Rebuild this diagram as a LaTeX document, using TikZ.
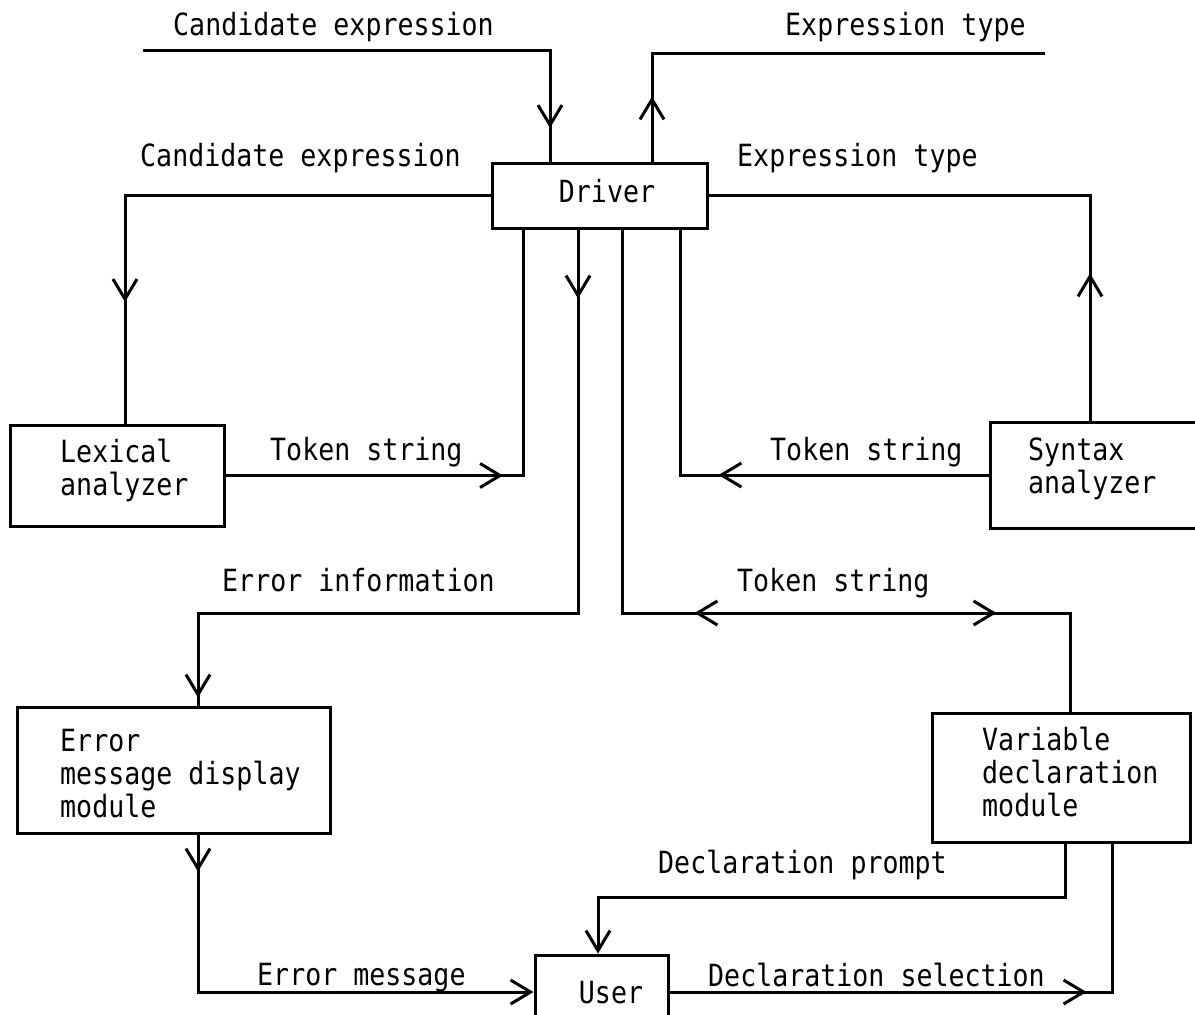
\documentclass[tikz,border=0pt]{standalone}
\usepackage{fontspec}
\setmonofont[FakeStretch=0.87]{DejaVu Sans Mono}
\usetikzlibrary{arrows.meta,decorations.markings}
\tikzset{
  vtip/.tip={Straight Barb[length=20pt,width=24pt]},
  box/.style={draw, line width=3pt, inner sep=0pt},
  txt/.style={font=\ttfamily\fontsize{30.6}{33}\selectfont, inner sep=0pt, align=left},
  lbl/.style={txt, anchor=base west},
  conn/.style={line width=3pt, line join=miter},
  fwd/.style={postaction={decorate, decoration={markings, mark=at position #1 with {\arrow{vtip}}}}},
  bwd/.style={postaction={decorate, decoration={markings, mark=at position #1 with {\arrowreversed{vtip}}}}},
}
\begin{document}
\begin{tikzpicture}[x=1pt, y=-1pt]
\useasboundingbox (0,0) rectangle (1195,1015);
\fill[white] (0,0) rectangle (1195,1015);

% boxes
\node[box, minimum width=215pt, minimum height=65pt] (drv) at (599.5,195.5) {};
\node[box, minimum width=214pt, minimum height=101pt] (lex) at (117.5,475.5) {};
\node[box, minimum width=220pt, minimum height=106pt] (syn) at (1100,475) {};
\node[box, minimum width=313pt, minimum height=126pt] (err) at (173.5,770) {};
\node[box, minimum width=258pt, minimum height=129pt] (var) at (1061,777.5) {};
\node[box, minimum width=133pt, minimum height=74pt] (usr) at (601.5,992) {};

% box texts
\node[txt] (drvt) at (607,191) {Driver};
\node[txt, anchor=west] (lext) at (60,470.5) {Lexical\\analyzer};
\node[txt, anchor=west] (synt) at (1028,469) {Syntax\\analyzer};
\node[txt, anchor=west] (errt) at (60,774) {Error\\message display\\module};
\node[txt, anchor=west] (vart) at (982,772) {Variable\\declaration\\module};
\node[txt] (usrt) at (611,993) {User};

% free ends and junctions
\coordinate (cin) at (143,50);
\coordinate (tout) at (1045,53);
\coordinate (j1) at (578,613);
\coordinate (j2) at (622,613);
\coordinate (j3) at (1065,897);

% connectors
\draw[conn, fwd=485pt] (cin) -| ([xshift=-49.5pt]drv.north);
\draw[conn, fwd=65pt] ([xshift=52.5pt]drv.north) |- (tout);
\draw[conn, fwd=472pt] (drv.west) -| ([xshift=7.5pt]lex.north);
\draw[conn, fwd=147pt] ([xshift=-10pt]syn.north) |- (drv.east);
\draw[conn, fwd=277pt] (lex.east) -| ([xshift=-76.5pt]drv.south);
\draw[conn, fwd=270pt] (syn.west) -| ([xshift=80.5pt]drv.south);
\draw[conn, fwd=69pt, fwd=848pt] ([xshift=-21.5pt]drv.south) -- (j1) -| ([xshift=24.5pt]err.north);
\draw[conn, bwd=456pt, fwd=758pt] ([xshift=22.5pt]drv.south) -- (j2) -| ([xshift=9pt]var.north);
\draw[conn, fwd=37pt, -{vtip}] ([xshift=24.5pt]err.south) |- (usr.west);
\draw[conn, -{vtip}] ([xshift=4pt]var.south) -- (j3) -| ([xshift=-3.5pt]usr.north);
\draw[conn, fwd=417pt] (usr.east) -| ([xshift=51pt]var.south);

% labels
\node[lbl] (l1) at (173,35) {Candidate expression};
\node[lbl] (l2) at (785,35) {Expression type};
\node[lbl] (l3) at (140,166) {Candidate expression};
\node[lbl] (l4) at (737,166) {Expression type};
\node[lbl] (l5) at (270,460) {Token string};
\node[lbl] (l6) at (770,460) {Token string};
\node[lbl] (l7) at (222,591) {Error information};
\node[lbl] (l8) at (737,591) {Token string};
\node[lbl] (l9) at (658,873) {Declaration prompt};
\node[lbl] (l10) at (257,985) {Error message};
\node[lbl] (l11) at (708,986) {Declaration selection};
\end{tikzpicture}
\end{document}
